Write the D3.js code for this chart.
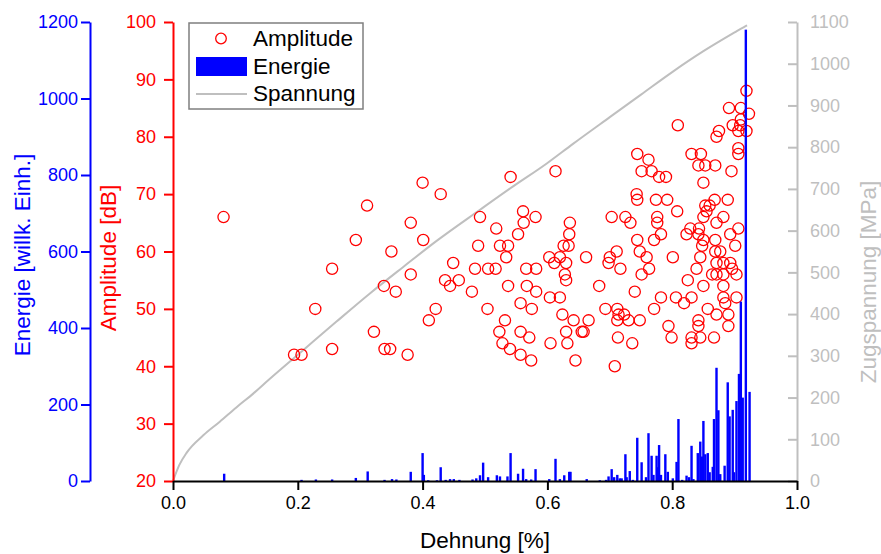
<!DOCTYPE html>
<html>
<head>
<meta charset="utf-8">
<script src="https://cdn.jsdelivr.net/npm/d3@7"></script>
<style>
  body { margin: 0; background: #fff; }
  svg { display: block; font-family: Arial, "Liberation Sans", sans-serif; }
</style>
</head>
<body>
<svg id="chart" width="881" height="554"></svg>
<script>
// Acoustic emission during a tensile test: hit amplitude, hit energy and stress vs. strain

// Amplitude of each hit: [strain %, amplitude dB]
const amplitudePoints = [
  [0.081,66],[0.400,72],[0.429,70],[0.311,68],[0.381,65],[0.293,62],[0.401,62],[0.350,60],
  [0.255,57],[0.381,56],[0.449,58],[0.492,66],[0.489,61],[0.484,57],[0.338,54],[0.357,53],
  [0.436,55],[0.444,54],[0.458,55],[0.479,53],[0.228,50],[0.421,50],[0.410,48],[0.322,46],
  [0.255,43],[0.339,43],[0.348,43],[0.194,42],[0.206,42],[0.376,42],
  [0.744,77],[0.762,76],[0.751,74],[0.767,74],[0.541,73],[0.613,74],[0.779,73],[0.790,73],
  [0.743,70],[0.744,69],[0.774,69],[0.792,69],[0.808,67],[0.809,82],
  [0.561,67],[0.581,66],[0.562,65],[0.703,66],[0.725,66],[0.733,65],[0.776,66],[0.776,65],[0.636,65],
  [0.518,64],[0.553,63],[0.635,63],[0.634,61],[0.782,63],[0.771,62],[0.744,62],[0.823,63],
  [0.524,61],[0.537,61],[0.626,61],[0.748,60],[0.711,60],[0.759,59],[0.700,59],[0.698,58],
  [0.534,59],[0.603,59],[0.620,59],[0.662,59],[0.801,59],[0.611,58],[0.630,58],
  [0.505,57],[0.517,57],[0.566,57],[0.582,57],[0.717,57],[0.763,57],
  [0.628,56],[0.630,55],[0.751,56],
  [0.537,54],[0.567,54],[0.582,53],[0.683,54],[0.740,53],[0.825,55],
  [0.604,52],[0.620,52],[0.782,52],[0.806,52],[0.819,51],
  [0.557,51],[0.504,50],[0.575,50],[0.693,50],[0.712,50],[0.714,49],[0.771,50],
  [0.624,49],[0.642,48],[0.666,48],[0.723,49],[0.730,48],[0.748,48],[0.532,48],[0.712,48],[0.794,47],
  [0.523,46],[0.557,46],[0.571,45],[0.630,46],[0.658,46],[0.655,46],
  [0.528,44],[0.540,43],[0.605,44],[0.632,44],[0.736,44],[0.713,45],[0.799,45],
  [0.557,42],[0.574,41],[0.645,41],[0.708,40],
  [0.919,88],[0.891,85],[0.910,85],[0.923,84],[0.910,83],[0.897,82],[0.909,82],[0.919,81],
  [0.906,81],[0.875,81],[0.871,80],[0.906,78],[0.906,77],[0.831,77],[0.846,77],[0.842,75],
  [0.853,75],[0.869,75],[0.895,74],[0.850,72],[0.868,69],[0.889,69],[0.853,68],[0.860,68],
  [0.855,67],[0.882,66],[0.850,66],[0.871,65],[0.843,64],[0.829,64],[0.906,64],[0.842,63],
  [0.893,63],[0.850,62],[0.869,62],[0.901,61],[0.848,61],[0.869,60],[0.877,60],[0.845,59],
  [0.871,58],[0.882,58],[0.893,58],[0.896,57],[0.839,57],[0.864,56],[0.871,56],[0.882,56],
  [0.903,56],[0.850,54],[0.882,54],[0.831,52],[0.882,52],[0.903,52],[0.885,51],[0.857,50],
  [0.871,49],[0.890,49],[0.842,48],[0.842,47],[0.890,47],[0.867,45],[0.845,45],[0.831,44],[0.831,45]
];

// Energy of each hit: [strain %, energy (arb. units)]
const energyBars = [
  [0.082,19],[0.206,3],[0.229,4],[0.255,4],[0.293,8],[0.312,25],[0.339,3],[0.351,5],[0.358,4],
  [0.381,24],[0.400,73],[0.402,16],[0.409,2],[0.423,2],[0.429,36],[0.437,3],[0.444,5],[0.450,5],
  [0.459,3],[0.480,4],[0.486,7],[0.492,15],[0.497,48],[0.505,10],[0.519,15],[0.524,12],[0.536,12],
  [0.541,73],[0.553,19],[0.561,32],[0.566,5],[0.574,4],[0.581,31],[0.603,5],[0.613,58],[0.620,5],
  [0.627,15],[0.635,24],[0.637,24],[0.663,5],
  [0.684,2],[0.694,3],[0.698,12],[0.703,31],[0.707,10],[0.712,16],[0.716,7],[0.719,7],[0.725,70],
  [0.727,10],[0.732,26],[0.737,3],[0.744,113],[0.751,49],[0.758,10],[0.762,125],[0.767,66],
  [0.770,16],[0.775,66],[0.777,36],[0.779,94],[0.782,16],[0.789,70],[0.793,24],[0.801,7],
  [0.807,50],[0.810,162],[0.816,3],[0.823,14],[0.827,10],[0.831,92],[0.834,5],[0.841,73],
  [0.845,103],[0.848,64],[0.850,157],[0.853,70],[0.857,73],[0.860,23],[0.865,37],[0.867,162],
  [0.871,296],[0.874,185],[0.877,18],[0.884,40],[0.889,258],[0.892,169],[0.897,186],[0.899,23],
  [0.903,209],[0.907,280],[0.910,469],[0.913,218],[0.918,1180],[0.924,233]
];

// Stress-strain curve: [strain %, stress MPa]
const stressCurve = [
  [0,0],[0.01,38],[0.022,68],[0.049,110],[0.075,142],[0.102,177],[0.129,210],[0.153,242],
  [0.209,314],[0.262,382],[0.316,450],[0.369,513],[0.423,576],[0.492,650],[0.545,706],
  [0.599,761],[0.641,808],[0.70,872],[0.75,926],[0.80,980],[0.85,1030],[0.90,1075],
  [0.915,1088],[0.92,1092]
];

const strainTicks = [0, 0.2, 0.4, 0.6, 0.8, 1.0];
const strainMinorTicks = [0.1, 0.3, 0.5, 0.7, 0.9];
const energyTicks = [0, 200, 400, 600, 800, 1000, 1200];
const energyMinorTicks = [100, 300, 500, 700, 900, 1100];
const amplitudeTicks = [20, 30, 40, 50, 60, 70, 80, 90, 100];
const amplitudeMinorTicks = [25, 35, 45, 55, 65, 75, 85, 95];
const stressTicks = [0, 100, 200, 300, 400, 500, 600, 700, 800, 900, 1000, 1100];
const stressMinorTicks = [50, 150, 250, 350, 450, 550, 650, 750, 850, 950, 1050];

const legendItems = ["Amplitude", "Energie", "Spannung"];

const BLUE = "#0000ff", RED = "#ff0000", GRAY = "#bfbfbf", BLACK = "#000";

const svg = d3.select("#chart");
const plotLeft = 173, plotRight = 797, plotTop = 22, plotBottom = 481;

const x = d3.scaleLinear().domain([0, 1]).range([plotLeft, plotRight]);
const yAmp = d3.scaleLinear().domain([20, 100]).range([plotBottom, plotTop]);
const yEnergy = d3.scaleLinear().domain([0, 1200]).range([plotBottom, plotTop]);
const yStress = d3.scaleLinear().domain([0, 1100]).range([plotBottom, plotTop]);

const intFmt = d3.format("d");

function styleAxis(g, color, fontSize) {
  g.selectAll("path.domain").attr("stroke", color).attr("stroke-width", 2);
  g.selectAll(".tick line").attr("stroke", color).attr("stroke-width", 2);
  g.selectAll(".tick text").attr("fill", color).attr("font-size", fontSize)
    .attr("font-family", "Arial, 'Liberation Sans', sans-serif");
}

// Stress curve (drawn first, under the markers)
const line = d3.line().x(d => x(d[0])).y(d => yStress(d[1])).curve(d3.curveMonotoneX);
svg.append("path").datum(stressCurve)
  .attr("d", line).attr("fill", "none").attr("stroke", GRAY).attr("stroke-width", 2);

// Amplitude markers
svg.append("g").selectAll("circle").data(amplitudePoints).join("circle")
  .attr("cx", d => x(d[0])).attr("cy", d => yAmp(d[1])).attr("r", 5.6)
  .attr("fill", "none").attr("stroke", RED).attr("stroke-width", 1.3);

// Energy bars
const barW = 2.4;
svg.append("g").selectAll("rect").data(energyBars).join("rect")
  .attr("x", d => x(d[0]) - barW / 2).attr("width", barW)
  .attr("y", d => yEnergy(d[1])).attr("height", d => yEnergy(0) - yEnergy(d[1]))
  .attr("fill", BLUE);

// Energy axis (outermost left)
const gE = svg.append("g").attr("transform", "translate(90,0)");
gE.call(d3.axisLeft(yEnergy).tickValues(energyMinorTicks).tickSize(6).tickSizeOuter(0).tickFormat(""));
gE.call(d3.axisLeft(yEnergy).tickValues(energyTicks).tickSize(9).tickSizeOuter(0).tickPadding(3).tickFormat(intFmt));
styleAxis(gE, BLUE, 18);

// Amplitude axis
const gA = svg.append("g").attr("transform", `translate(${plotLeft},0)`);
gA.call(d3.axisLeft(yAmp).tickValues(amplitudeMinorTicks).tickSize(6).tickSizeOuter(0).tickFormat(""));
gA.call(d3.axisLeft(yAmp).tickValues(amplitudeTicks).tickSize(9).tickSizeOuter(0).tickPadding(8).tickFormat(intFmt));
styleAxis(gA, RED, 18);

// Stress axis (right, ticks pointing inward)
const gS = svg.append("g").attr("transform", `translate(${plotRight},0)`);
gS.call(d3.axisRight(yStress).tickValues(stressMinorTicks).tickSize(-6).tickSizeOuter(0).tickFormat(""));
gS.call(d3.axisRight(yStress).tickValues(stressTicks).tickSize(-9).tickSizeOuter(0).tickPadding(13).tickFormat(intFmt));
styleAxis(gS, GRAY, 18);

// Strain axis
const gX = svg.append("g").attr("transform", `translate(0,${plotBottom})`);
gX.call(d3.axisBottom(x).tickValues(strainMinorTicks).tickSize(5).tickSizeOuter(0).tickFormat(""));
gX.call(d3.axisBottom(x).tickValues(strainTicks).tickSize(9).tickSizeOuter(0).tickPadding(6).tickFormat(d3.format(".1f")));
styleAxis(gX, BLACK, 18);

// Axis titles
const titleSize = 22.5;
svg.append("text").attr("transform", "translate(30,255) rotate(-90)")
  .attr("text-anchor", "middle").attr("font-size", titleSize).attr("fill", BLUE)
  .text("Energie [willk. Einh.]");
svg.append("text").attr("transform", "translate(116,258) rotate(-90)")
  .attr("text-anchor", "middle").attr("font-size", titleSize).attr("fill", RED)
  .text("Amplitude [dB]");
svg.append("text").attr("transform", "translate(876,282) rotate(-90)")
  .attr("text-anchor", "middle").attr("font-size", titleSize).attr("fill", GRAY)
  .text("Zugspannung [MPa]");
svg.append("text").attr("x", (plotLeft + plotRight) / 2).attr("y", 548)
  .attr("text-anchor", "middle").attr("font-size", titleSize).attr("fill", BLACK)
  .text("Dehnung [%]");

// Legend
const lg = svg.append("g");
lg.append("rect").attr("x", 189).attr("y", 23).attr("width", 174).attr("height", 86)
  .attr("fill", "#fff").attr("stroke", "#7f7f7f").attr("stroke-width", 1.5);
lg.append("circle").attr("cx", 221).attr("cy", 38.5).attr("r", 5.3)
  .attr("fill", "none").attr("stroke", RED).attr("stroke-width", 1.3);
lg.append("rect").attr("x", 196).attr("y", 57).attr("width", 51).attr("height", 19).attr("fill", BLUE);
lg.append("line").attr("x1", 196).attr("x2", 247).attr("y1", 94).attr("y2", 94)
  .attr("stroke", GRAY).attr("stroke-width", 2);
lg.selectAll("text.item").data(legendItems).join("text").attr("class", "item")
  .attr("x", 253).attr("y", (d, i) => 46 + i * 27.5)
  .attr("font-size", titleSize).attr("fill", BLACK).text(d => d);
</script>
</body>
</html>
